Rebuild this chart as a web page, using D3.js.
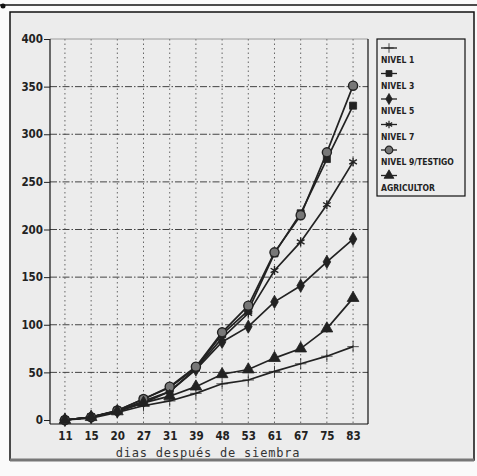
<!DOCTYPE html>
<html>
<head>
<meta charset="utf-8">
<script src="https://cdn.jsdelivr.net/npm/d3@7"></script>
<style>
  body { margin: 0; background: #f4f4f4; }
  svg { display: block; }
  .tick-label { font-family: "Liberation Sans Narrow", "DejaVu Sans Condensed", sans-serif; font-weight: bold; font-size: 11.5px; fill: #222; }
  .legend-label { font-family: "Liberation Sans Narrow", "DejaVu Sans Condensed", sans-serif; font-weight: bold; font-size: 8.5px; fill: #222; }
  .axis-title { font-family: "DejaVu Sans Mono", monospace; font-size: 12px; letter-spacing: 0.8px; fill: #333; }
</style>
</head>
<body>
<div class="chart"></div>
<script>
var svgWidth = 477;
var svgHeight = 476;

// days after sowing (categories on x)
var days = ["11", "15", "20", "27", "31", "39", "48", "53", "61", "67", "75", "83"];
var yTicks = [0, 50, 100, 150, 200, 250, 300, 350, 400];

// series values
var nivel1 = [0, 2, 8, 15, 20, 28, 38, 42, 51, 59, 67, 77];
var nivel3 = [0, 3, 10, 22, 34, 55, 90, 115, 175, 217, 274, 330];
var nivel5 = [0, 3, 9, 20, 30, 53, 82, 98, 124, 141, 166, 190];
var nivel7 = [0, 3, 9, 18, 30, 54, 86, 112, 157, 187, 226, 271];
var nivel9 = [0, 3, 10, 22, 35, 56, 92, 120, 176, 215, 281, 351];
var agricultor = [0, 3, 9, 18, 25, 35, 48, 53, 65, 75, 96, 128];

var seriesNames = ["NIVEL 1", "NIVEL 3", "NIVEL 5", "NIVEL 7", "NIVEL 9/TESTIGO", "AGRICULTOR"];
var seriesValues = [nivel1, nivel3, nivel5, nivel7, nivel9, agricultor];

var symbols = [
  { type: d3.symbolPlus, size: 45, fill: "#222", open: false },
  { type: d3.symbolSquare, size: 50, fill: "#222", open: false },
  { type: d3.symbolDiamond, size: 50, fill: "#222", open: false },
  { type: d3.symbolAsterisk, size: 55, fill: "none", open: true },
  { type: d3.symbolCircle, size: 65, fill: "#777", open: true },
  { type: d3.symbolTriangle, size: 60, fill: "#222", open: false }
];

var plot = { left: 50, right: 368, top: 39, bottom: 420 };

var svg = d3.select(".chart")
  .append("svg")
  .attr("width", svgWidth)
  .attr("height", svgHeight);

// paper
svg.append("rect").attr("width", svgWidth).attr("height", svgHeight).attr("fill", "#fafafa");
svg.append("rect")
  .attr("x", 10).attr("y", 12).attr("width", 464).attr("height", 448)
  .attr("fill", "#ececec").attr("stroke", "#111").attr("stroke-width", 1.5);
svg.append("line")
  .attr("x1", 10).attr("x2", 474).attr("y1", 460).attr("y2", 460)
  .attr("stroke", "#777").attr("stroke-width", 3);
svg.append("line")
  .attr("x1", 0).attr("x2", 477).attr("y1", 5).attr("y2", 5)
  .attr("stroke", "#111").attr("stroke-width", 1.5);
svg.append("circle").attr("cx", 3).attr("cy", 6).attr("r", 2.5).attr("fill", "#111");

var x = d3.scalePoint()
  .domain(days)
  .range([plot.left, plot.right])
  .padding(0.57);

var y = d3.scaleLinear()
  .domain([0, 400])
  .range([plot.bottom, plot.top]);

var chartGroup = svg.append("g");

// vertical dotted grid
chartGroup.selectAll(".vgrid")
  .data(days)
  .enter()
  .append("line")
  .attr("x1", d => x(d)).attr("x2", d => x(d))
  .attr("y1", plot.top).attr("y2", plot.bottom + 4)
  .attr("stroke", "#666").attr("stroke-width", 1)
  .attr("stroke-dasharray", "1.5,3");

// horizontal dash-dot grid
chartGroup.selectAll(".hgrid")
  .data(yTicks.filter(d => d > 0 && d < 400))
  .enter()
  .append("line")
  .attr("x1", plot.left).attr("x2", plot.right)
  .attr("y1", d => y(d)).attr("y2", d => y(d))
  .attr("stroke", "#444").attr("stroke-width", 1)
  .attr("stroke-dasharray", "7,2,1.5,2");

// frame of plot
chartGroup.append("line")
  .attr("x1", plot.left).attr("x2", plot.right)
  .attr("y1", plot.top).attr("y2", plot.top)
  .attr("stroke", "#888").attr("stroke-width", 0.8);
chartGroup.append("line")
  .attr("x1", plot.left).attr("x2", plot.left)
  .attr("y1", plot.top).attr("y2", plot.bottom + 4)
  .attr("stroke", "#111").attr("stroke-width", 1.2);
chartGroup.append("line")
  .attr("x1", plot.right).attr("x2", plot.right)
  .attr("y1", plot.top).attr("y2", plot.bottom + 4)
  .attr("stroke", "#111").attr("stroke-width", 1.2);
chartGroup.append("line")
  .attr("x1", plot.left).attr("x2", plot.right)
  .attr("y1", plot.bottom + 4).attr("y2", plot.bottom + 4)
  .attr("stroke", "#111").attr("stroke-width", 1.2);

// y axis
var leftAxis = d3.axisLeft(y).tickValues(yTicks).tickSize(6).tickPadding(1);
var yAxis = chartGroup.append("g")
  .attr("transform", `translate(${plot.left}, 0)`)
  .call(leftAxis);
yAxis.select(".domain").remove();
yAxis.selectAll("line").attr("stroke", "#222");
yAxis.selectAll("text").attr("class", "tick-label").attr("font-size", null).attr("font-family", null);

// x axis labels
var bottomAxis = d3.axisBottom(x).tickSize(0).tickPadding(10);
var xAxis = chartGroup.append("g")
  .attr("transform", `translate(0, ${plot.bottom + 2})`)
  .call(bottomAxis);
xAxis.select(".domain").remove();
xAxis.selectAll("text").attr("class", "tick-label").attr("font-size", null).attr("font-family", null);

chartGroup.append("text")
  .attr("class", "axis-title")
  .attr("x", 208)
  .attr("y", 457)
  .attr("text-anchor", "middle")
  .text("dias después de siembra");

// lines + markers
var line = d3.line()
  .x((d, i) => x(days[i]))
  .y(d => y(d));

seriesValues.forEach(function(vals, k) {
  chartGroup.append("path")
    .datum(vals)
    .attr("d", line)
    .attr("fill", "none")
    .attr("stroke", "#222")
    .attr("stroke-width", 1.7);
});

seriesValues.forEach(function(vals, k) {
  var s = symbols[k];
  chartGroup.selectAll(".m" + k)
    .data(vals)
    .enter()
    .append("path")
    .attr("transform", (d, i) => `translate(${x(days[i])}, ${y(d)})`)
    .attr("d", d3.symbol().type(s.type).size(s.size))
    .attr("fill", s.fill)
    .attr("stroke", "#222")
    .attr("stroke-width", s.open ? 1.4 : 0.8);
});

// legend
var legend = svg.append("g");
legend.append("rect")
  .attr("x", 377).attr("y", 39).attr("width", 88).attr("height", 157)
  .attr("fill", "none").attr("stroke", "#111").attr("stroke-width", 1.2);

seriesNames.forEach(function(name, k) {
  var top = 48 + k * 25.5;
  var s = symbols[k];
  legend.append("line")
    .attr("x1", 381).attr("x2", 397)
    .attr("y1", top).attr("y2", top)
    .attr("stroke", "#222").attr("stroke-width", 1.3);
  legend.append("path")
    .attr("transform", `translate(389, ${top})`)
    .attr("d", d3.symbol().type(s.type).size(s.size * 0.7))
    .attr("fill", s.fill)
    .attr("stroke", "#222")
    .attr("stroke-width", s.open ? 1.2 : 0.8);
  legend.append("text")
    .attr("class", "legend-label")
    .attr("x", 381)
    .attr("y", top + 15)
    .text(name);
});
</script>
</body>
</html>
